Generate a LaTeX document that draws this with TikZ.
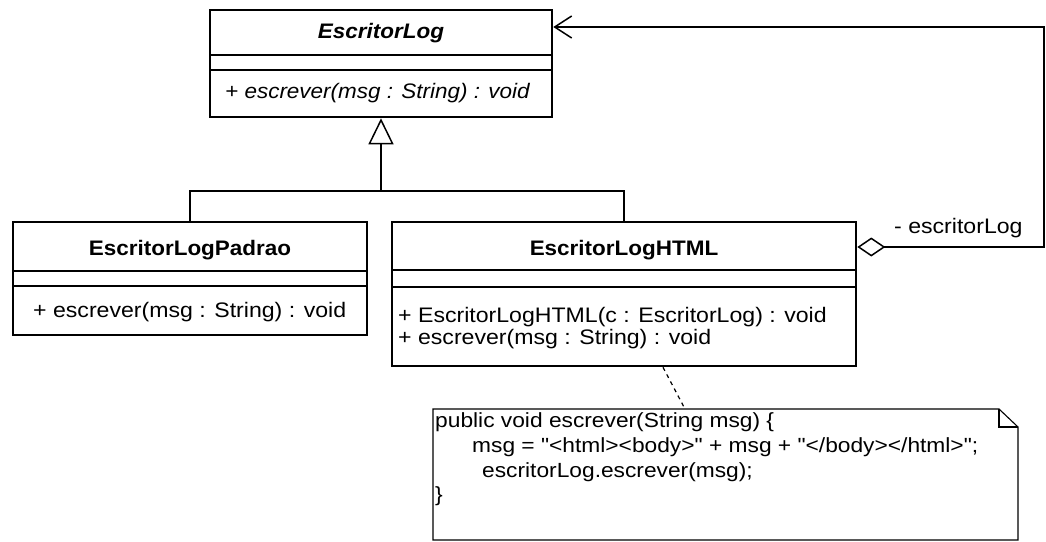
\documentclass[tikz,border=0pt]{standalone}
\usepackage{fontspec}
\setmainfont{Liberation Sans}
% UML text is set a little wider than plain Liberation Sans
\newfontfamily\umltitlefont[FakeStretch=1.07]{Liberation Sans}
\newfontfamily\umlfont[FakeStretch=1.1]{Liberation Sans}
\newfontfamily\codefont[FakeStretch=1.11]{Liberation Sans}
\usetikzlibrary{arrows.meta}
\begin{document}
\begin{tikzpicture}[x=1pt,y=-1pt,
  classbox/.style={draw, line width=2.6pt, rectangle, inner sep=0pt},
  sep/.style={line width=1.3pt},
  cname/.style={font=\umltitlefont\fontsize{21}{24}\selectfont\bfseries, inner sep=0pt},
  member/.style={font=\umlfont\fontsize{21}{24}\selectfont, inner sep=0pt, anchor=west},
  absmember/.style={member, font=\umltitlefont\fontsize{21}{24}\selectfont\itshape},
  code/.style={font=\codefont\fontsize{20.5}{24}\selectfont, inner sep=0pt, anchor=west},
  link/.style={line width=1.5pt},
  notebox/.style={line width=1.1pt},
  anchorlink/.style={line width=1.2pt, dash pattern=on 4pt off 4pt}]
\useasboundingbox (0,0) rectangle (1046,541);

% abstract class EscritorLog
\node[classbox, minimum width=342pt, minimum height=107pt] (log) at (381,63.5) {};
\draw[sep] (210,55) -- (552,55);
\draw[sep] (210,70) -- (552,70);
\node[cname, font=\umltitlefont\fontsize{21}{24}\selectfont\bfseries\itshape] (logname) at (381,33) {EscritorLog};
\node[absmember] (logop) at (225,93) {+ escrever(msg : String) : void};

% class EscritorLogPadrao
\node[classbox, minimum width=354pt, minimum height=113pt] (padrao) at (190,278.5) {};
\draw[sep] (13,271) -- (367,271);
\draw[sep] (13,286) -- (367,286);
\node[cname] (padraoname) at (190,250) {EscritorLogPadrao};
\node[member] (padraoop) at (33,312) {+ escrever(msg : String) : void};

% class EscritorLogHTML
\node[classbox, minimum width=464pt, minimum height=144pt] (html) at (624,294) {};
\draw[sep] (392,270) -- (856,270);
\draw[sep] (392,287) -- (856,287);
\node[cname] (htmlname) at (624,250) {EscritorLogHTML};
\node[member] (htmlop1) at (398,317) {+ EscritorLogHTML(c : EscritorLog) : void};
\node[member] (htmlop2) at (398,339) {+ escrever(msg : String) : void};

% generalization
\coordinate (bar) at (381,191);
\draw[link] (padrao.north) |- (bar) -| (html.north);
\draw[link, -{Triangle[open, length=26pt, width=25pt, line width=1.5pt]}] (bar) -- (log.south);

% aggregation EscritorLogHTML -> EscritorLog
\coordinate (aggfrom) at (html.east |- 0,247);
\coordinate (aggto) at (log.east |- 0,27);
\coordinate (turnlow) at (1044,247);
\coordinate (turnhigh) at (1044,27);
\draw[link, {Diamond[open, length=28pt, width=19pt, line width=1.5pt]}-{Straight Barb[length=17pt, width=22pt, line width=1.5pt]}]
  (aggfrom) -- (turnlow) -- (turnhigh) -- (aggto);
\node[member] (role) at (894,228) {- escritorLog};

% note with folded corner
\coordinate (note) at (685,409);
\draw[notebox] (433,409) -- (999,409) -- (1018,427) -- (1018,540) -- (433,540) -- cycle;
\draw[notebox] (999,409) -- (999,427) -- (1018,427);
\draw[anchorlink] ([xshift=39pt]html.south) -- (note);
\node[code] (c1) at (435,422) {public void escrever(String msg) \{};
\node[code] (c2) at (472,447) {msg = "<html><body>" + msg + "</body></html>";};
\node[code] (c3) at (482,472) {escritorLog.escrever(msg);};
\node[code] (c4) at (435,496) {\}};
\end{tikzpicture}
\end{document}
